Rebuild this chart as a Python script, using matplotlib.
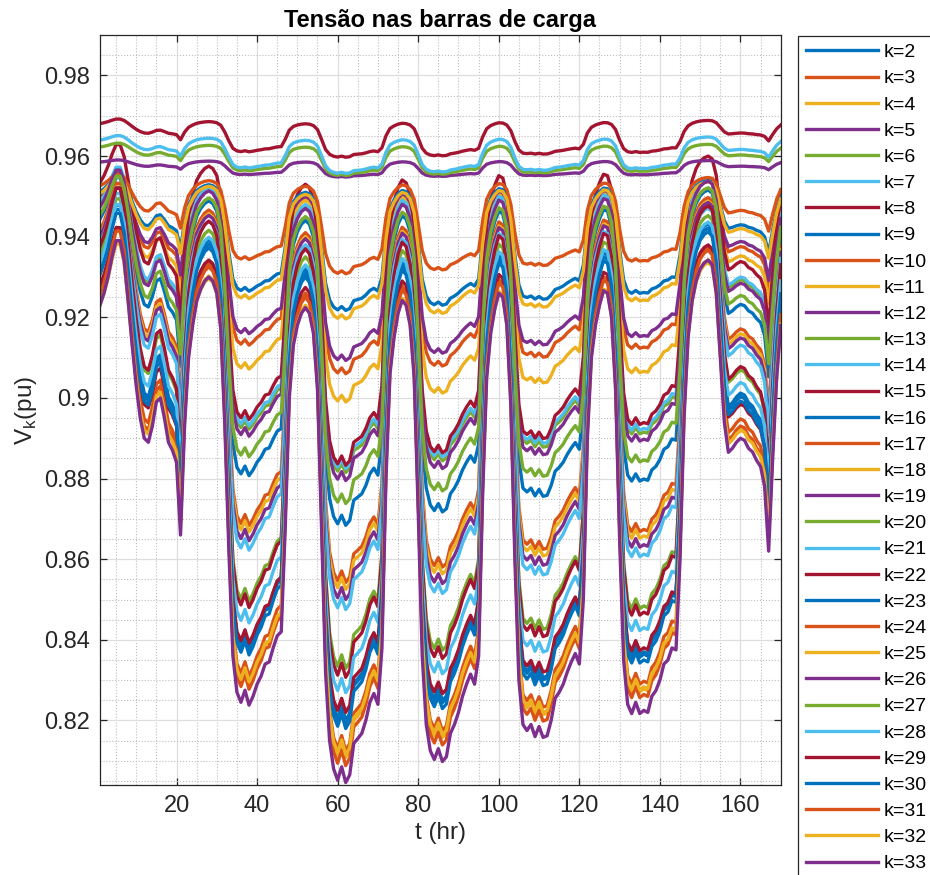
import numpy as np
import matplotlib.pyplot as plt
from matplotlib.ticker import MultipleLocator, FuncFormatter

plt.rcParams['font.family'] = ['Liberation Sans', 'DejaVu Sans']

# hour axis (1 week + a bit)
hours = np.arange(1, 171)

# voltage of the weakest bus (k=33), read hour by hour from the figure
v_ref = [
    0.923, 0.926, 0.930, 0.935, 0.939, 0.939, 0.934, 0.924, 0.913, 0.903,
    0.895, 0.890, 0.889, 0.893, 0.899, 0.900, 0.895, 0.889, 0.887, 0.884,
    0.866, 0.893, 0.910, 0.918, 0.924, 0.927, 0.929, 0.930, 0.929, 0.926,
    0.917, 0.893, 0.862, 0.836, 0.827, 0.8245, 0.8275, 0.8238, 0.826, 0.829,
    0.831, 0.834, 0.8345, 0.838, 0.841, 0.842, 0.868, 0.900, 0.913, 0.918,
    0.921, 0.9224, 0.921, 0.916, 0.902, 0.868, 0.832, 0.815, 0.808, 0.8052,
    0.8085, 0.8046, 0.8065, 0.8143, 0.8155, 0.8168, 0.820, 0.8245, 0.8267, 0.824,
    0.838, 0.880, 0.906, 0.915, 0.921, 0.9242, 0.923, 0.918, 0.905, 0.872,
    0.836, 0.819, 0.8125, 0.8103, 0.813, 0.8098, 0.811, 0.8168, 0.819, 0.822,
    0.826, 0.829, 0.8315, 0.829, 0.836, 0.876, 0.905, 0.916, 0.922, 0.926,
    0.925, 0.918, 0.898, 0.860, 0.830, 0.819, 0.8175, 0.819, 0.816, 0.8185,
    0.8158, 0.8162, 0.820, 0.8255, 0.827, 0.829, 0.832, 0.8345, 0.8366, 0.834,
    0.850, 0.890, 0.910, 0.918, 0.923, 0.9266, 0.926, 0.920, 0.902, 0.865,
    0.835, 0.824, 0.8217, 0.8245, 0.8217, 0.8225, 0.822, 0.826, 0.8274, 0.830,
    0.834, 0.835, 0.838, 0.8375, 0.860, 0.895, 0.915, 0.924, 0.929, 0.932,
    0.9335, 0.9342, 0.933, 0.926, 0.910, 0.894, 0.8865, 0.8875, 0.889, 0.890,
    0.8895, 0.8875, 0.8866, 0.8845, 0.883, 0.878, 0.862, 0.885, 0.905, 0.918,
]

buses = list(range(2, 34))
# each bus read at the light-load peak (t=52) and at the heavy-load valley (t=62)
v_peak = [0.944, 0.9495, 0.949, 0.950, 0.9475, 0.948, 0.953, 0.932,
          0.941, 0.940, 0.9395, 0.935, 0.938, 0.937, 0.931, 0.926,
          0.923, 0.9585, 0.9622, 0.9639, 0.968, 0.951, 0.9525, 0.9505,
          0.947, 0.945, 0.933, 0.9274, 0.930, 0.925, 0.9225, 0.9224]
v_trough = [0.8684, 0.906, 0.899, 0.9093, 0.8815, 0.8825, 0.8833, 0.820,
            0.8542, 0.8525, 0.850, 0.8329, 0.8475, 0.8307, 0.8195, 0.8125,
            0.8108, 0.9548, 0.9552, 0.9557, 0.9597, 0.9217, 0.9308, 0.9196,
            0.8795, 0.8738, 0.8269, 0.822, 0.818, 0.8088, 0.8115, 0.8046]

colors = ['#0072BD', '#D95319', '#EDB120', '#7E2F8E',
          '#77AC30', '#4DBEEE', '#A2142F']

ref = np.array(v_ref)
frac = (ref - ref[51]) / (ref[61] - ref[51])

fig = plt.figure(figsize=(9.3, 8.75), dpi=100)
ax = fig.add_axes([0.1075, 0.1029, 0.732, 0.857])

for i, k in enumerate(buses):
    v = v_peak[i] + frac * (v_trough[i] - v_peak[i])
    ax.plot(hours, v, color=colors[i % 7], lw=2.4, label=f'k={k}')

ax.set_xlim(1, 170)
ax.set_ylim(0.804, 0.99)
ax.set_xticks(np.arange(20, 161, 20))
ax.set_yticks(np.arange(0.82, 0.981, 0.02))
ax.yaxis.set_major_formatter(FuncFormatter(lambda v, p: f'{v:.2f}'.rstrip('0')))
ax.xaxis.set_minor_locator(MultipleLocator(5))
ax.yaxis.set_minor_locator(MultipleLocator(0.005))

ax.set_axisbelow(True)
ax.grid(which='major', color='#dedede', lw=0.9)
ax.grid(which='minor', color='#bdbdbd', ls=':', lw=0.8)
ax.tick_params(which='major', direction='in', top=True, right=True,
               length=5, width=0.9, labelsize=17, colors='#262626', pad=7)
ax.tick_params(which='minor', length=0)
for s in ax.spines.values():
    s.set_color('#262626')
    s.set_linewidth(0.9)

ax.set_title('Tensão nas barras de carga', fontsize=17, fontweight='bold', pad=6)
ax.set_xlabel('t (hr)', fontsize=17.5, color='#262626')
ax.set_ylabel(r'V$_\mathregular{k}$(pu)', fontsize=17.5, color='#262626')

leg = ax.legend(loc='upper left', bbox_to_anchor=(0.858, 0.959),
                bbox_transform=fig.transFigure, borderaxespad=0,
                fontsize=14, handlelength=3.7, handletextpad=0.3,
                labelspacing=0.44, borderpad=0.4, fancybox=False,
                framealpha=1, edgecolor='#262626')
leg.get_frame().set_linewidth(0.9)

fig.savefig('out.png', dpi=100)
